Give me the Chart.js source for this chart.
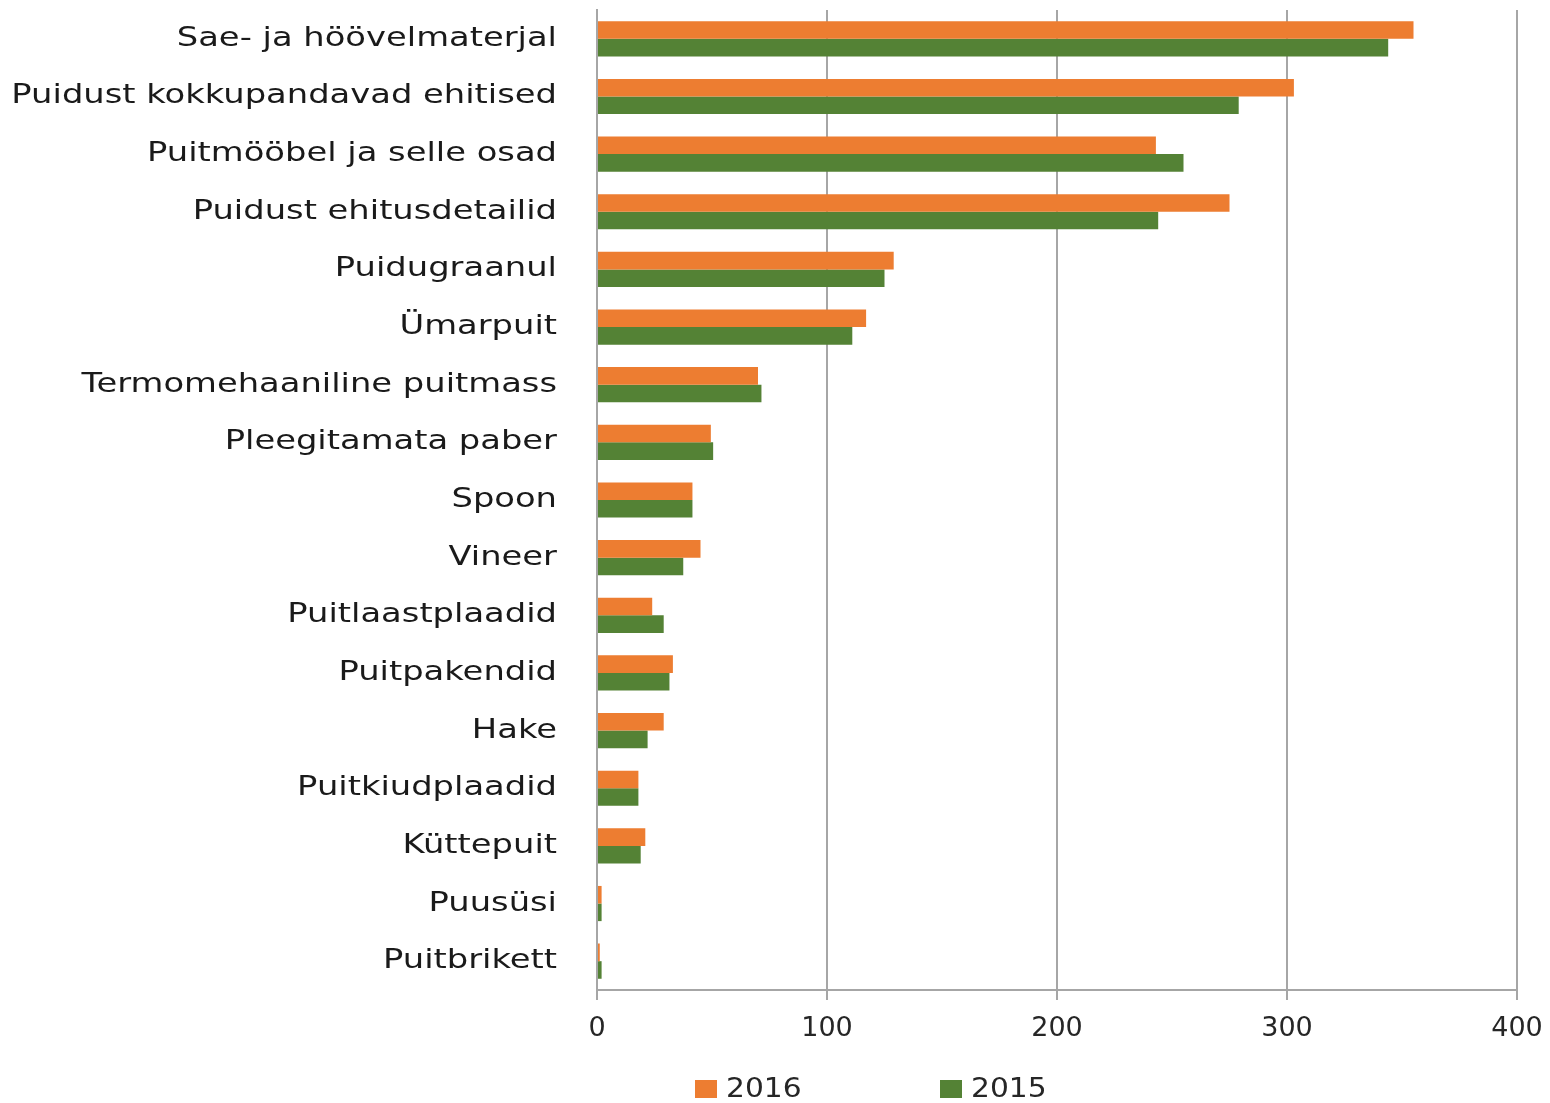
<!DOCTYPE html>
<html><head><meta charset="utf-8">
<script src="https://cdn.jsdelivr.net/npm/chart.js@4"></script>
<style>html,body{margin:0;padding:0;background:#fff}#wrap{width:1550px;height:1103px;position:relative}</style>
</head><body><div id="wrap"><canvas id="c"></canvas></div>
<script>
const categories = [
  'Sae- ja höövelmaterjal',
  'Puidust kokkupandavad ehitised',
  'Puitmööbel ja selle osad',
  'Puidust ehitusdetailid',
  'Puidugraanul',
  'Ümarpuit',
  'Termomehaaniline puitmass',
  'Pleegitamata paber',
  'Spoon',
  'Vineer',
  'Puitlaastplaadid',
  'Puitpakendid',
  'Hake',
  'Puitkiudplaadid',
  'Küttepuit',
  'Puusüsi',
  'Puitbrikett'
];
const values2016 = [355, 303, 243, 275, 129, 117, 70, 49.5, 41.5, 45, 24, 33, 29, 18, 21, 2, 1.2];
const values2015 = [344, 279, 255, 244, 125, 111, 71.5, 50.5, 41.5, 37.5, 29, 31.5, 22, 18, 19, 2, 2];
const seriesLabels = ['2016', '2015'];
const seriesColors = ['#ED7D31', '#548235'];
const xMin = 0, xMax = 400, xStep = 100;

const FONT = '"DejaVu Sans", sans-serif';
const Y_STRETCH = 1.25;

const stretchPlugin = {
  id: 'stretchLabels',
  afterLayout(chart) {
    const s = chart.scales.y;
    if (!s || s._stretched) return;
    const orig = s.drawLabels.bind(s);
    s.drawLabels = function (ca) {
      const ctx = chart.ctx;
      const a = s.right - s.options.ticks.padding;
      ctx.save();
      ctx.translate(a, 0);
      ctx.scale(Y_STRETCH, 1);
      ctx.translate(-a, 0);
      orig(ca);
      ctx.restore();
    };
    s._stretched = true;
  }
};

const legendPlugin = {
  id: 'customLegend',
  afterDraw(chart) {
    const ctx = chart.ctx;
    ctx.save();
    ctx.font = '27px ' + FONT;
    ctx.textBaseline = 'middle';
    ctx.textAlign = 'left';
    const y = 1089;
    let x = 695;
    chart.data.datasets.forEach(ds => {
      ctx.fillStyle = ds.backgroundColor;
      ctx.fillRect(x, y - 9, 22, 18);
      ctx.fillStyle = '#262626';
      ctx.save();
      ctx.translate(x + 31, 0);
      ctx.scale(1.1, 1);
      ctx.fillText(ds.label, 0, y + 1);
      ctx.restore();
      x += 245;
    });
    ctx.restore();
  }
};

new Chart(document.getElementById('c'), {
  type: 'bar',
  data: {
    labels: categories,
    datasets: [
      { label: seriesLabels[0], data: values2016, backgroundColor: seriesColors[0], borderWidth: 0 },
      { label: seriesLabels[1], data: values2015, backgroundColor: seriesColors[1], borderWidth: 0 }
    ]
  },
  options: {
    indexAxis: 'y',
    responsive: true,
    maintainAspectRatio: false,
    animation: false,
    devicePixelRatio: 1,
    categoryPercentage: 0.61,
    barPercentage: 1.0,
    layout: { padding: { top: 10, right: 33, bottom: 0, left: 0 } },
    plugins: { legend: { display: false }, tooltip: { enabled: false } },
    scales: {
      x: {
        min: xMin, max: xMax,
        ticks: { stepSize: xStep, font: { family: FONT, size: 27 }, color: '#262626', padding: 13 },
        grid: { color: '#a6a6a6', lineWidth: 2, tickLength: 10, drawTicks: true },
        border: { color: '#a6a6a6', width: 2 },
        afterFit(scale) { scale.height = 113; scale.paddingLeft = 0; scale.paddingRight = 0; }
      },
      y: {
        ticks: { font: { family: FONT, size: 27 }, color: '#1a1a1a', padding: 40, autoSkip: false },
        grid: { display: false, drawTicks: false },
        border: { color: '#a6a6a6', width: 2 },
        afterFit(scale) { scale.width = 597; scale.paddingTop = 0; scale.paddingBottom = 0; }
      }
    }
  },
  plugins: [stretchPlugin, legendPlugin]
});
</script>
</body></html>
